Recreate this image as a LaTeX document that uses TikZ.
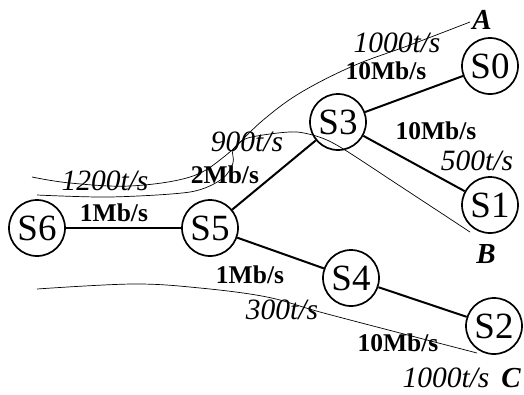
\documentclass[tikz,border=0pt]{standalone}
\usepackage{fontspec}
\setmainfont{Liberation Serif}
\begin{document}
\begin{tikzpicture}[x=1pt,y=-1pt,
  sw/.style={circle,draw,line width=1.7pt,minimum size=56pt,inner sep=0pt,font=\fontsize{37}{37}\selectfont},
  bw/.style={font=\bfseries\fontsize{25.5}{25.5}\selectfont,inner sep=0pt},
  rate/.style={font=\itshape\fontsize{29.5}{29.5}\selectfont,inner sep=0pt},
  dest/.style={font=\bfseries\itshape\fontsize{29}{29}\selectfont,inner sep=0pt},
  link/.style={line width=2pt},
  flow/.style={line width=0.7pt}]
\useasboundingbox (0,0) rectangle (524,394);
% switches
\node[sw] (s6) at (37,228) {S6};
\node[sw] (s5) at (210,228) {S5};
\node[sw] (s3) at (338,122) {S3};
\node[sw] (s0) at (490,66) {S0};
\node[sw] (s1) at (490,205) {S1};
\node[sw] (s4) at (351,278) {S4};
\node[sw] (s2) at (494,326) {S2};
% links
\draw[link] (s6) -- (s5);
\draw[link] (s5) -- (s3);
\draw[link] (s3) -- (s0);
\draw[link] (s3) -- (s1);
\draw[link] (s5) -- (s4);
\draw[link] (s4) -- (s2);
% bandwidth labels
\node[bw] (b1) at (114,213) {1Mb/s};
\node[bw] (b2) at (225,175) {2Mb/s};
\node[bw] (b3) at (386,71) {10Mb/s};
\node[bw] (b4) at (436,131) {10Mb/s};
\node[bw] (b5) at (250,275) {1Mb/s};
\node[bw] (b6) at (398,343) {10Mb/s};
% rates
\node[rate] (r1) at (105,181) {1200t/s};
\node[rate] (r2) at (247,142) {900t/s};
\node[rate] (r3) at (397,43) {1000t/s};
\node[rate] (r4) at (477,161) {500t/s};
\node[rate] (r5) at (282,310) {300t/s};
\node[rate] (r6) at (446,378) {1000t/s};
% destinations
\node[dest] (dA) at (482,20) {A};
\node[dest] (dB) at (486,254) {B};
\node[dest] (dC) at (511,378) {C};
% flows
\coordinate (fa0) at (32,177);
\coordinate (fa1) at (470,22);
\coordinate (fb0) at (37,195);
\coordinate (fb1) at (470,232);
\coordinate (fc0) at (37,289);
\coordinate (fc1) at (477,353);
\draw[flow] plot[smooth,tension=0.6] coordinates {(fa0) (70,183) (130,186) (190,177) (225,156) (262,121) (300,93) (353,66) (410,45) (fa1)};
\draw[flow] plot[smooth,tension=0.5] coordinates {(fb0) (110,197) (190,192) (222,179) (233,163) (233,150) (245,139) (270,134) (297,132) (322,138) (345,150) (400,186) (fb1)};
\draw[flow] plot[smooth,tension=0.6] coordinates {(fc0) (133,284) (200,288) (267,297) (320,312) (400,333) (fc1)};
\end{tikzpicture}
\end{document}
